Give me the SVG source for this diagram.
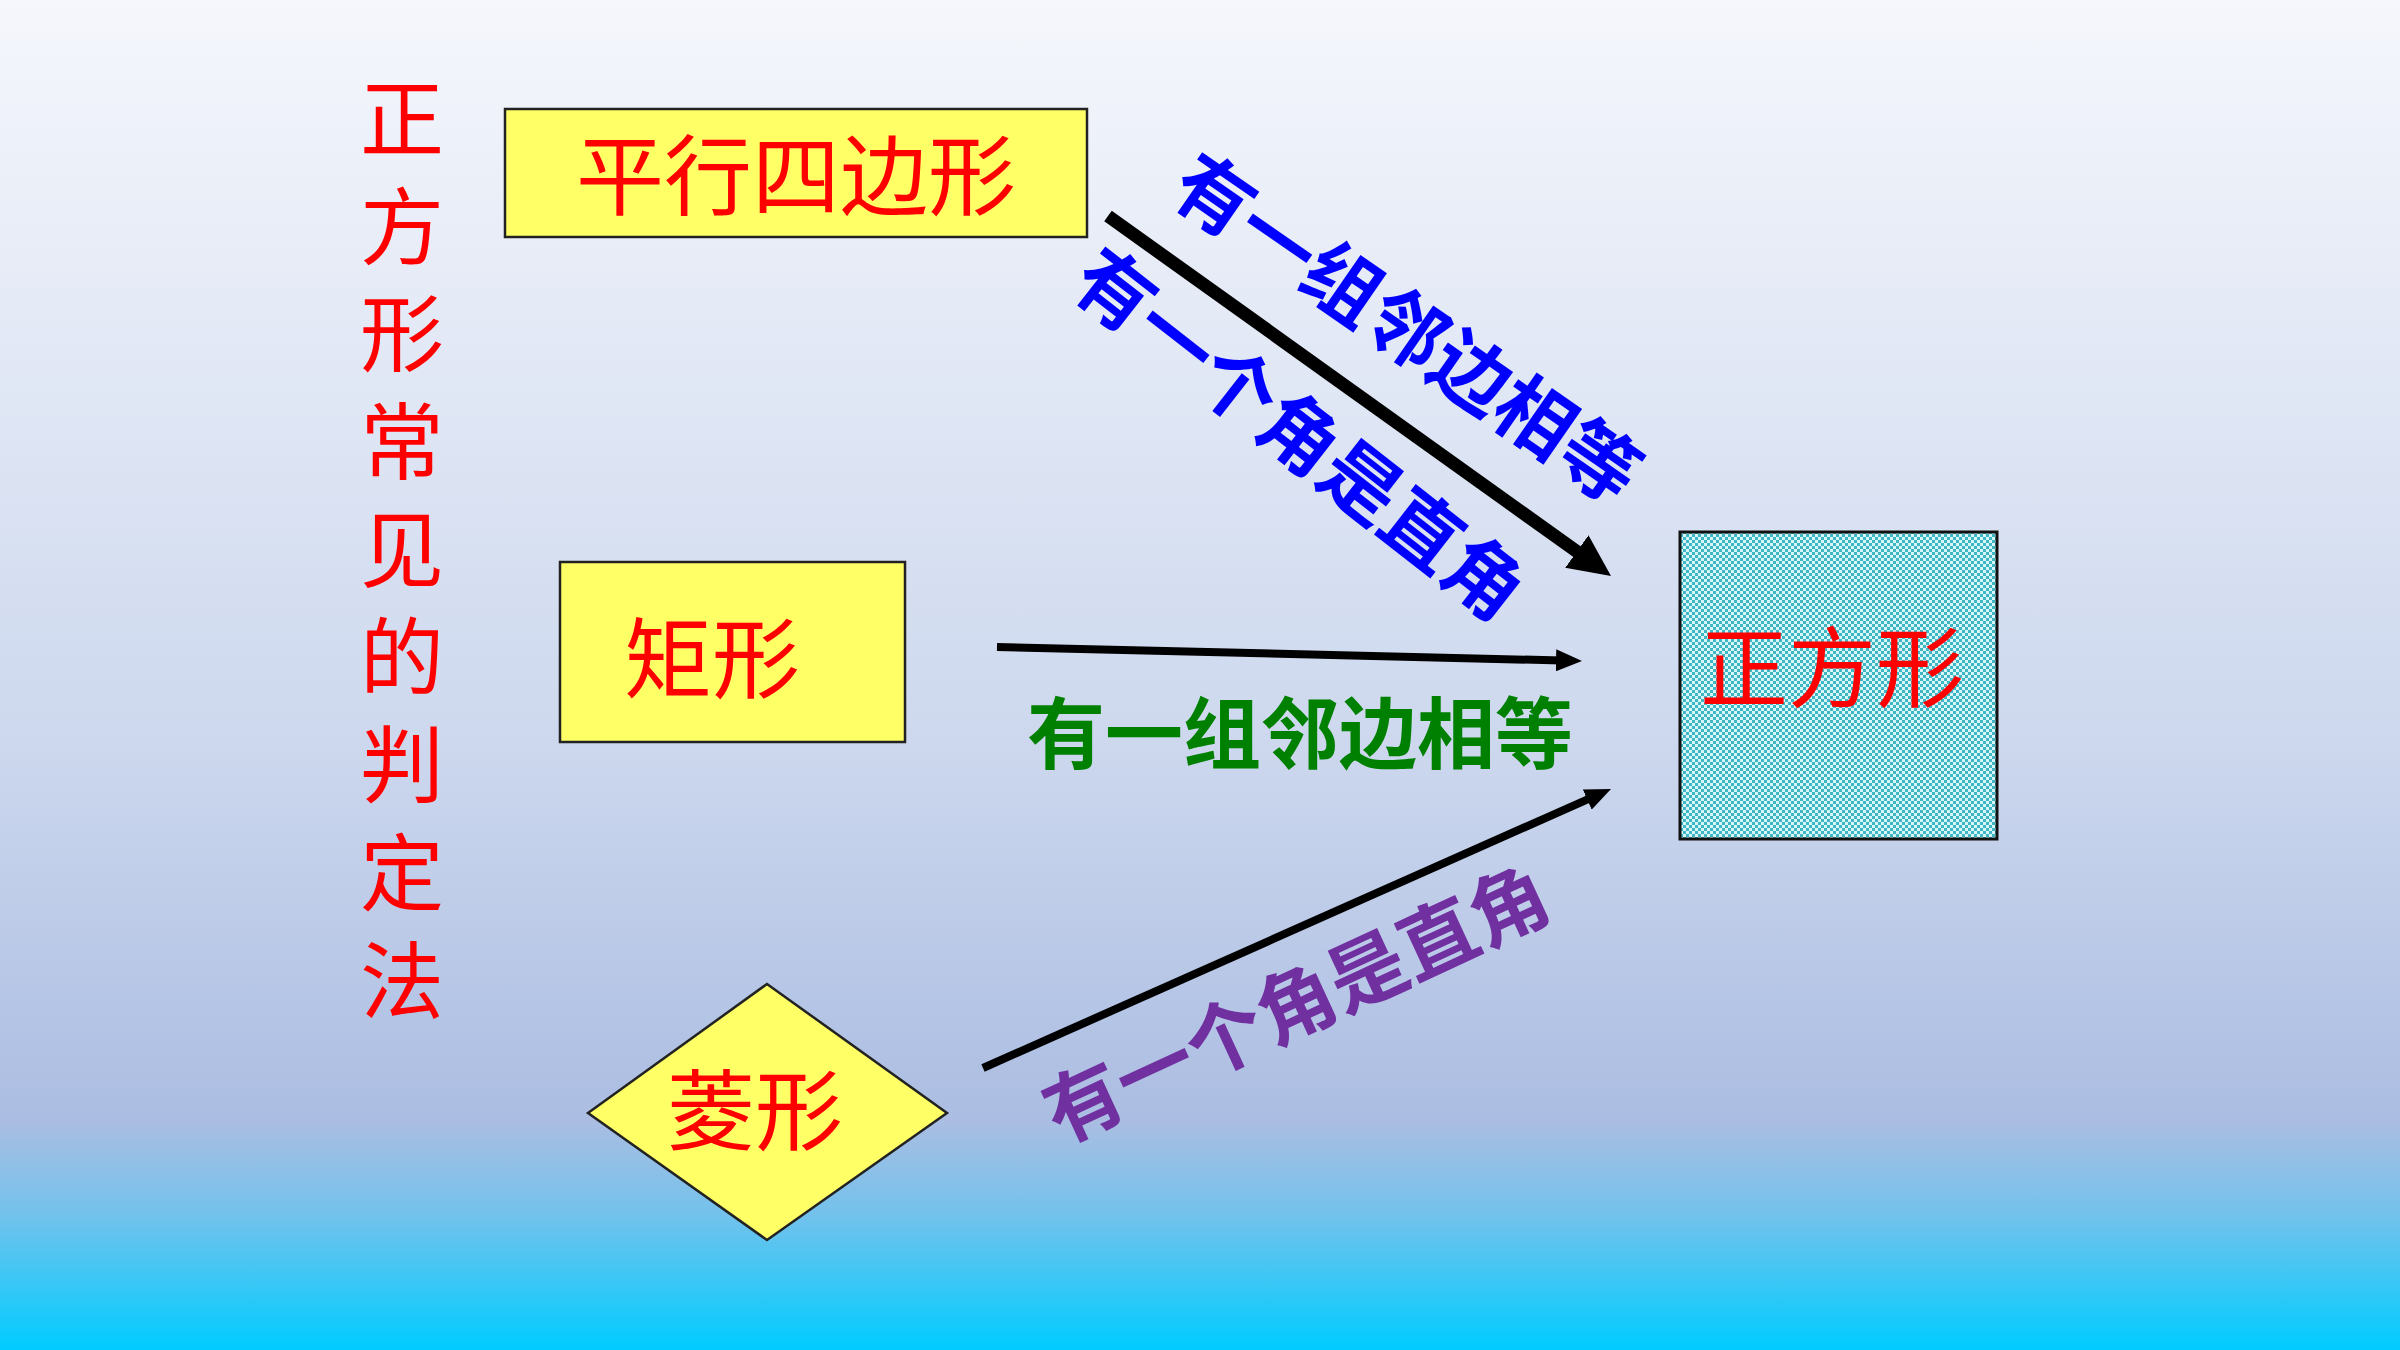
<svg xmlns="http://www.w3.org/2000/svg" width="2400" height="1350" viewBox="0 0 2400 1350">
  <defs>
    <linearGradient id="bg" x1="0" y1="0" x2="0" y2="1">
      <stop offset="0" stop-color="#F5F7FC"/>
      <stop offset="0.55" stop-color="#CDD8EE"/>
      <stop offset="0.83" stop-color="#ABBDE2"/>
      <stop offset="0.9" stop-color="#72C2EC"/>
      <stop offset="1" stop-color="#00CCFF"/>
    </linearGradient>
    <pattern id="checker" width="6" height="6" patternUnits="userSpaceOnUse">
      <rect width="6" height="6" fill="#D8F6F8"/>
      <rect x="0" y="0" width="3" height="3" fill="#3DB7C6"/>
      <rect x="3" y="3" width="3" height="3" fill="#3DB7C6"/>
    </pattern>
    <marker id="headBig" markerUnits="userSpaceOnUse" markerWidth="42" markerHeight="40" refX="12" refY="20" orient="auto">
      <path d="M0,0 L42,20 L0,40 Z" fill="#000"/>
    </marker>
    <marker id="headSmall" markerUnits="userSpaceOnUse" markerWidth="26" markerHeight="22" refX="6" refY="11" orient="auto">
      <path d="M0,0 L26,11 L0,22 Z" fill="#000"/>
    </marker>
    <style>
      .red { font-family: "Noto Sans CJK SC", "Noto Sans", sans-serif; fill: #FF0000; font-size: 88px; text-anchor: middle; dominant-baseline: central; }
      .vert { font-family: "Noto Sans CJK SC", "Noto Sans", sans-serif; fill: #FF0000; font-size: 84px; writing-mode: vertical-rl; letter-spacing: 23.7px; }
      .lbl { font-family: "Noto Sans CJK SC", "Noto Sans", sans-serif; font-weight: bold; font-size: 78px; text-anchor: middle; dominant-baseline: central; }
      .box { fill: #FFFF66; stroke: #222; stroke-width: 2.5; }
      .conn { stroke: #000; fill: none; }
    </style>
  </defs>

  <rect width="2400" height="1350" fill="url(#bg)"/>

  <g id="title">
    <text class="vert" x="402" y="76">正方形常见的判定法</text>
  </g>

  <g id="node-parallelogram">
    <rect class="box" x="505" y="109" width="582" height="128"/>
    <text class="red" x="796" y="169">平行四边形</text>
  </g>

  <g id="node-rectangle">
    <rect class="box" x="560" y="562" width="345" height="180"/>
    <text class="red" x="712" y="652">矩形</text>
  </g>

  <g id="node-rhombus">
    <polygon class="box" points="588,1113 767,984 947,1113 767,1240"/>
    <text class="red" x="755" y="1104">菱形</text>
  </g>

  <g id="node-square">
    <rect x="1680" y="532" width="317" height="307" fill="url(#checker)" stroke="#111" stroke-width="3"/>
    <text class="red" x="1832" y="661">正方形</text>
  </g>

  <g id="connectors">
    <line class="conn" x1="1108" y1="216" x2="1586.6" y2="558.5" stroke-width="13" marker-end="url(#headBig)"/>
    <line class="conn" x1="997" y1="647" x2="1562" y2="660.5" stroke-width="8" marker-end="url(#headSmall)"/>
    <line class="conn" x1="983" y1="1068" x2="1592.7" y2="797.1" stroke-width="8" marker-end="url(#headSmall)"/>
  </g>

  <g id="labels">
    <text class="lbl" fill="#0000FF" x="1410" y="324" transform="rotate(34.7 1410 324)">有一组邻边相等</text>
    <text class="lbl" fill="#0000FF" x="1303" y="430" transform="rotate(38 1303 430)">有一个角是直角</text>
    <text class="lbl" fill="#008000" x="1300" y="729">有一组邻边相等</text>
    <text class="lbl" fill="#7030A0" x="1294" y="999" transform="rotate(-24.8 1294 999)">有一个角是直角</text>
  </g>
</svg>
